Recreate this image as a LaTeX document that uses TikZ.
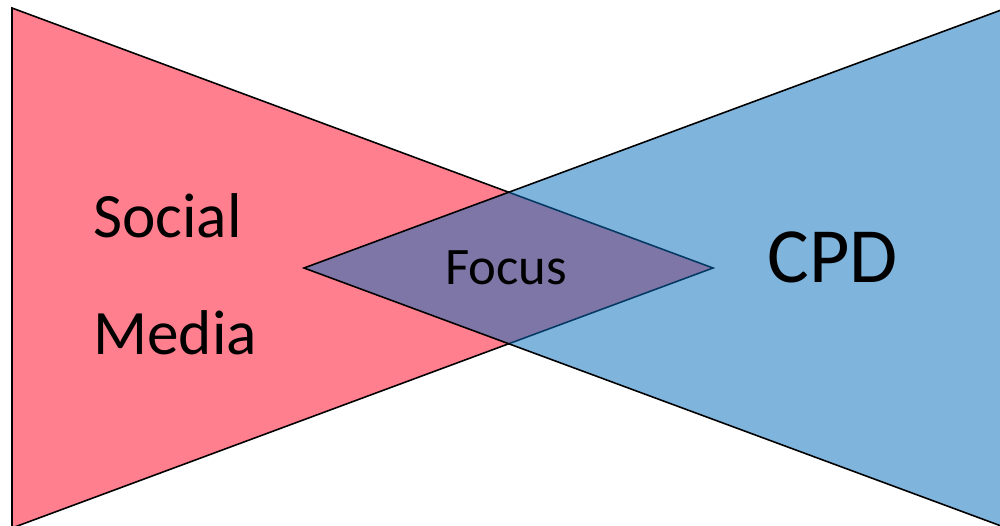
\documentclass[tikz,border=0pt]{standalone}
\usepackage{fontspec}
\setmainfont{Carlito}
\definecolor{socialred}{RGB}{255,127,142}
\definecolor{cpdblue}{RGB}{9,111,190}
\begin{document}
\begin{tikzpicture}[x=0.02cm,y=-0.02cm,
    label/.style={inner sep=0pt,anchor=base west},
    wedge/.style={draw=black,line width=0.9pt,line join=miter}]
      \useasboundingbox (0,0) rectangle (1000,526);
      \clip (0,0) rectangle (1000,526);
      \coordinate (redtop) at (12,8);
      \coordinate (redbot) at (12,528);
      \coordinate (redtip) at (713,268);
      \coordinate (bluetop) at (1012,6);
      \coordinate (bluebot) at (1012,530);
      \coordinate (bluetip) at (304,268);
      % the two wedges, the blue one see-through
      \draw[wedge,fill=socialred] (redtop) -- (redtip) -- (redbot) -- cycle;
      \draw[wedge,fill=cpdblue,fill opacity=0.52] (bluetop) -- (bluetip) -- (bluebot) -- cycle;
      \node[label,font=\fontsize{36}{40}\selectfont] (social) at (93,238) {Social};
      \node[label,font=\fontsize{36}{40}\selectfont] (media) at (93,355) {Media};
      \node[label,font=\fontsize{44.5}{50}\selectfont] (cpd) at (767,283) {CPD};
      \node[inner sep=0pt,anchor=base,font=\fontsize{30}{34}\selectfont] (focus) at (506,285) {Focus};
    \end{tikzpicture}
\end{document}
